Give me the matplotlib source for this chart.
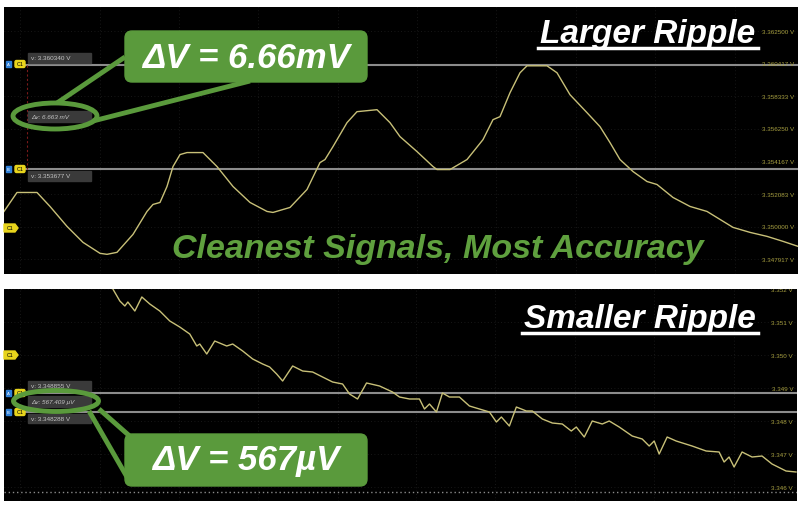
import matplotlib
matplotlib.use('Agg')
import matplotlib.pyplot as plt
from matplotlib.patches import FancyBboxPatch, Ellipse, Rectangle, Polygon

# larger ripple trace (screen position, volts)
t_top = [4, 17, 37, 50, 67, 83, 100, 107, 117, 133,
         147, 153, 160, 167, 173, 180, 187, 203, 217, 233,
         250, 267, 273, 290, 307, 320, 325, 333, 347, 357,
         377, 390, 400, 417, 433, 437, 450, 467, 483, 493,
         500, 510, 520, 527, 547, 557, 570, 587, 600, 610,
         620, 633, 647, 657, 673, 690, 707, 720, 733, 750,
         767, 783, 798]
v_top = [3.350978, 3.352190, 3.352190, 3.351297, 3.350022, 3.349001, 3.348300, 3.348236, 3.348363, 3.349511,
         3.350978, 3.351425, 3.351552, 3.352573, 3.353848, 3.354613, 3.354741, 3.354741, 3.353848, 3.352573,
         3.351552, 3.350978, 3.350914, 3.351233, 3.352381, 3.354103, 3.354295, 3.355124, 3.356654, 3.357356,
         3.357483, 3.356654, 3.355761, 3.354805, 3.353848, 3.353657, 3.353657, 3.354295, 3.355570, 3.356846,
         3.357037, 3.358568, 3.359843, 3.360289, 3.360289, 3.359843, 3.358440, 3.357292, 3.356399, 3.355379,
         3.354295, 3.353529, 3.352891, 3.352700, 3.351871, 3.351297, 3.350978, 3.350468, 3.349958, 3.349639,
         3.349384, 3.349065, 3.348746]

# smaller ripple trace
t_bot = [110, 113, 120, 125, 128, 135, 142, 150, 160, 170,
         180, 190, 197, 200, 207, 215, 227, 233, 243, 253,
         263, 270, 277, 283, 293, 303, 313, 323, 333, 343,
         350, 358, 367, 380, 393, 400, 410, 420, 425, 430,
         437, 443, 450, 460, 470, 480, 490, 497, 502, 510,
         517, 527, 533, 543, 553, 563, 572, 577, 585, 593,
         603, 610, 620, 633, 643, 650, 655, 660, 668, 677,
         693, 707, 720, 725, 730, 735, 743, 753, 763, 773,
         787, 797]
v_bot = [3.352250, 3.352000, 3.351636, 3.351485, 3.351606, 3.351333, 3.351758, 3.351545, 3.351333, 3.351030,
         3.350848, 3.350636, 3.350273, 3.350333, 3.350030, 3.350424, 3.350273, 3.350333, 3.350121, 3.349879,
         3.349727, 3.349636, 3.349424, 3.349212, 3.349667, 3.349515, 3.349485, 3.349333, 3.349182, 3.349121,
         3.348818, 3.348667, 3.349152, 3.349061, 3.348879, 3.348727, 3.348667, 3.348667, 3.348364, 3.348515,
         3.348273, 3.348848, 3.348727, 3.348727, 3.348455, 3.348364, 3.348273, 3.347970, 3.348121, 3.347848,
         3.348424, 3.348303, 3.348303, 3.348061, 3.347939, 3.347909, 3.347697, 3.347818, 3.347515, 3.348000,
         3.347909, 3.348000, 3.347818, 3.347545, 3.347455, 3.347242, 3.347394, 3.347000, 3.347515, 3.347394,
         3.347242, 3.347091, 3.347061, 3.346758, 3.346909, 3.346606, 3.347061, 3.346909, 3.346939, 3.346697,
         3.346485, 3.346455]

cursors_top = [3.360340, 3.353677]
cursors_bot = [3.348855, 3.348288]
delta_top = 'Δv: 6.663 mV'
delta_bot = 'Δv: 567.409 µV'
ticks_top = [3.362500, 3.360417, 3.358333, 3.356250, 3.354167, 3.352083, 3.350000, 3.347917]
ticks_bot = [3.352, 3.351, 3.350, 3.349, 3.348, 3.347, 3.346]
dotted_bot = 3.345848

GREEN = '#5a9a3c'
TRACE = '#c8c078'
FONT = 'Liberation Sans'

fig = plt.figure(figsize=(8, 5.1), dpi=100, facecolor='white')


def scope_axes(rect, ylim):
    ax = fig.add_axes(rect)
    ax.set_facecolor('black')
    ax.set_xlim(4, 798)
    ax.set_ylim(*ylim)
    ax.set_xticks([])
    ax.set_yticks([])
    for s in ax.spines.values():
        s.set_visible(False)
    for gx in [20, 100, 179, 258, 338, 417, 496, 576, 655, 735]:
        ax.axvline(gx, color='#1e1e1e', lw=0.6, ls=(0, (1, 3)), zorder=0)
    return ax


# top panel: y 8..275 px, bottom panel: y 290..502 px
ax1 = scope_axes([4/800, 1-275/510, 794/800, 267/510], (3.346978, 3.364048))
ax2 = scope_axes([4/800, 1-502/510, 793/800, 212/510], (3.345576, 3.352000))

for v in ticks_top:
    ax1.axhline(v, color='#1e1e1e', lw=0.6, ls=(0, (1, 3)), zorder=0)
    ax1.text(794, min(v, 3.363548), f'{v:.6f} V', color='#a8a040', fontsize=4.5,
             ha='right', va='center', family=FONT)
for v in ticks_bot:
    ax2.axhline(v, color='#1e1e1e', lw=0.6, ls=(0, (1, 3)), zorder=0)
    ax2.text(794, v, f'{v:.3f} V', color='#a8a040', fontsize=4.5,
             ha='right', va='center', family=FONT, clip_on=True)

ax1.plot(t_top, v_top, color=TRACE, lw=1.0, zorder=3)
ax2.plot(t_bot, v_bot, color=TRACE, lw=1.0, zorder=3)

for v in cursors_top:
    ax1.axhline(v, xmin=(25-4)/794, color='#8c8c8c', lw=1.5, zorder=2)
for v in cursors_bot:
    ax2.axhline(v, xmin=(25-4)/794, color='#8c8c8c', lw=1.5, zorder=2)
ax1.plot([27, 27], cursors_top, color='#7a1a1a', lw=0.8, ls=(0, (2, 2)), zorder=2)
ax2.axhline(dotted_bot, color='#8a8a8a', lw=1.0, ls=(0, (1, 2)), zorder=2)

# overlay in pixel coordinates for the labels and callouts
ov = fig.add_axes([0, 0, 1, 1])
ov.set_xlim(0, 800)
ov.set_ylim(510, 0)
ov.axis('off')
ov.patch.set_alpha(0)


def label_box(y0, y1, text):
    ov.add_patch(Rectangle((28, y0), 63, y1-y0, color='#3a3a3a', zorder=4))
    ov.text(31, (y0+y1)/2, text, color='#c4c4c4', fontsize=4.6, va='center', ha='left',
            family=FONT, style='italic' if text.startswith('Δ') else 'normal', zorder=5)


def marker(y, letter):
    ov.add_patch(Rectangle((6, y-3), 5, 6, color='#2f80d8', zorder=5))
    ov.text(8.5, y, letter, color='white', fontsize=3, ha='center', va='center', zorder=6)
    ov.add_patch(FancyBboxPatch((15, y-3.5), 10, 7, boxstyle='round,pad=0,rounding_size=1.5',
                                color='#e8d41c', zorder=5))
    ov.text(20, y, 'C1', color='black', fontsize=4, ha='center', va='center', zorder=6, family=FONT)


def pennant(y):
    ov.add_patch(Polygon([(4, y-4), (15, y-4), (18, y), (15, y+4), (4, y+4)], color='#e8d41c', zorder=5))
    ov.text(10, y, 'C1', color='black', fontsize=3.8, ha='center', va='center', zorder=6, family=FONT)


label_box(54, 64, 'v: 3.360340 V')
label_box(112, 123, delta_top)
label_box(172, 182, 'v: 3.353677 V')
label_box(382, 392, 'v: 3.348855 V')
label_box(397, 408, delta_bot)
label_box(415, 424, 'v: 3.348288 V')
marker(65, 'A')
marker(170, 'B')
marker(394, 'A')
marker(413, 'B')
pennant(229)
pennant(356)

# callouts
ov.add_patch(Ellipse((55, 117), 84, 26, fill=False, ec=GREEN, lw=3.5, zorder=6))
ov.plot([57, 125], [104, 58], color=GREEN, lw=3.5, zorder=6, solid_capstyle='butt')
ov.plot([93, 250], [122, 82], color=GREEN, lw=3.5, zorder=6, solid_capstyle='butt')
ov.add_patch(FancyBboxPatch((129, 36), 234, 43, boxstyle='round,pad=4,rounding_size=7',
                            fc=GREEN, ec=GREEN, zorder=7))
ov.text(246, 58, 'ΔV = 6.66mV', color='white', fontsize=25, fontweight='bold', style='italic',
        ha='center', va='center', family=FONT, zorder=8)

ov.add_patch(Ellipse((56, 402), 85, 21, fill=False, ec=GREEN, lw=3.5, zorder=6))
ov.plot([89, 127], [412, 478], color=GREEN, lw=3.5, zorder=6, solid_capstyle='butt')
ov.plot([99, 133], [410, 440], color=GREEN, lw=3.5, zorder=6, solid_capstyle='butt')
ov.add_patch(FancyBboxPatch((129, 439), 234, 44, boxstyle='round,pad=4,rounding_size=7',
                            fc=GREEN, ec=GREEN, zorder=7))
ov.text(246, 461, 'ΔV = 567µV', color='white', fontsize=25, fontweight='bold', style='italic',
        ha='center', va='center', family=FONT, zorder=8)

# titles
ov.text(648, 43, 'Larger Ripple', color='white', fontsize=24, fontweight='bold', style='italic',
        ha='center', va='baseline', family=FONT, zorder=8)
ov.plot([538, 758], [49, 49], color='white', lw=2.5, zorder=8)
ov.text(640, 328, 'Smaller Ripple', color='white', fontsize=24, fontweight='bold', style='italic',
        ha='center', va='baseline', family=FONT, zorder=8)
ov.plot([522, 758], [333.5, 333.5], color='white', lw=2.5, zorder=8)
ov.text(438, 258, 'Cleanest Signals, Most Accuracy', color='#5fa03e', fontsize=24.5,
        fontweight='bold', style='italic', ha='center', va='baseline', family=FONT, zorder=8)

fig.savefig('out.png', dpi=100, facecolor='white')
